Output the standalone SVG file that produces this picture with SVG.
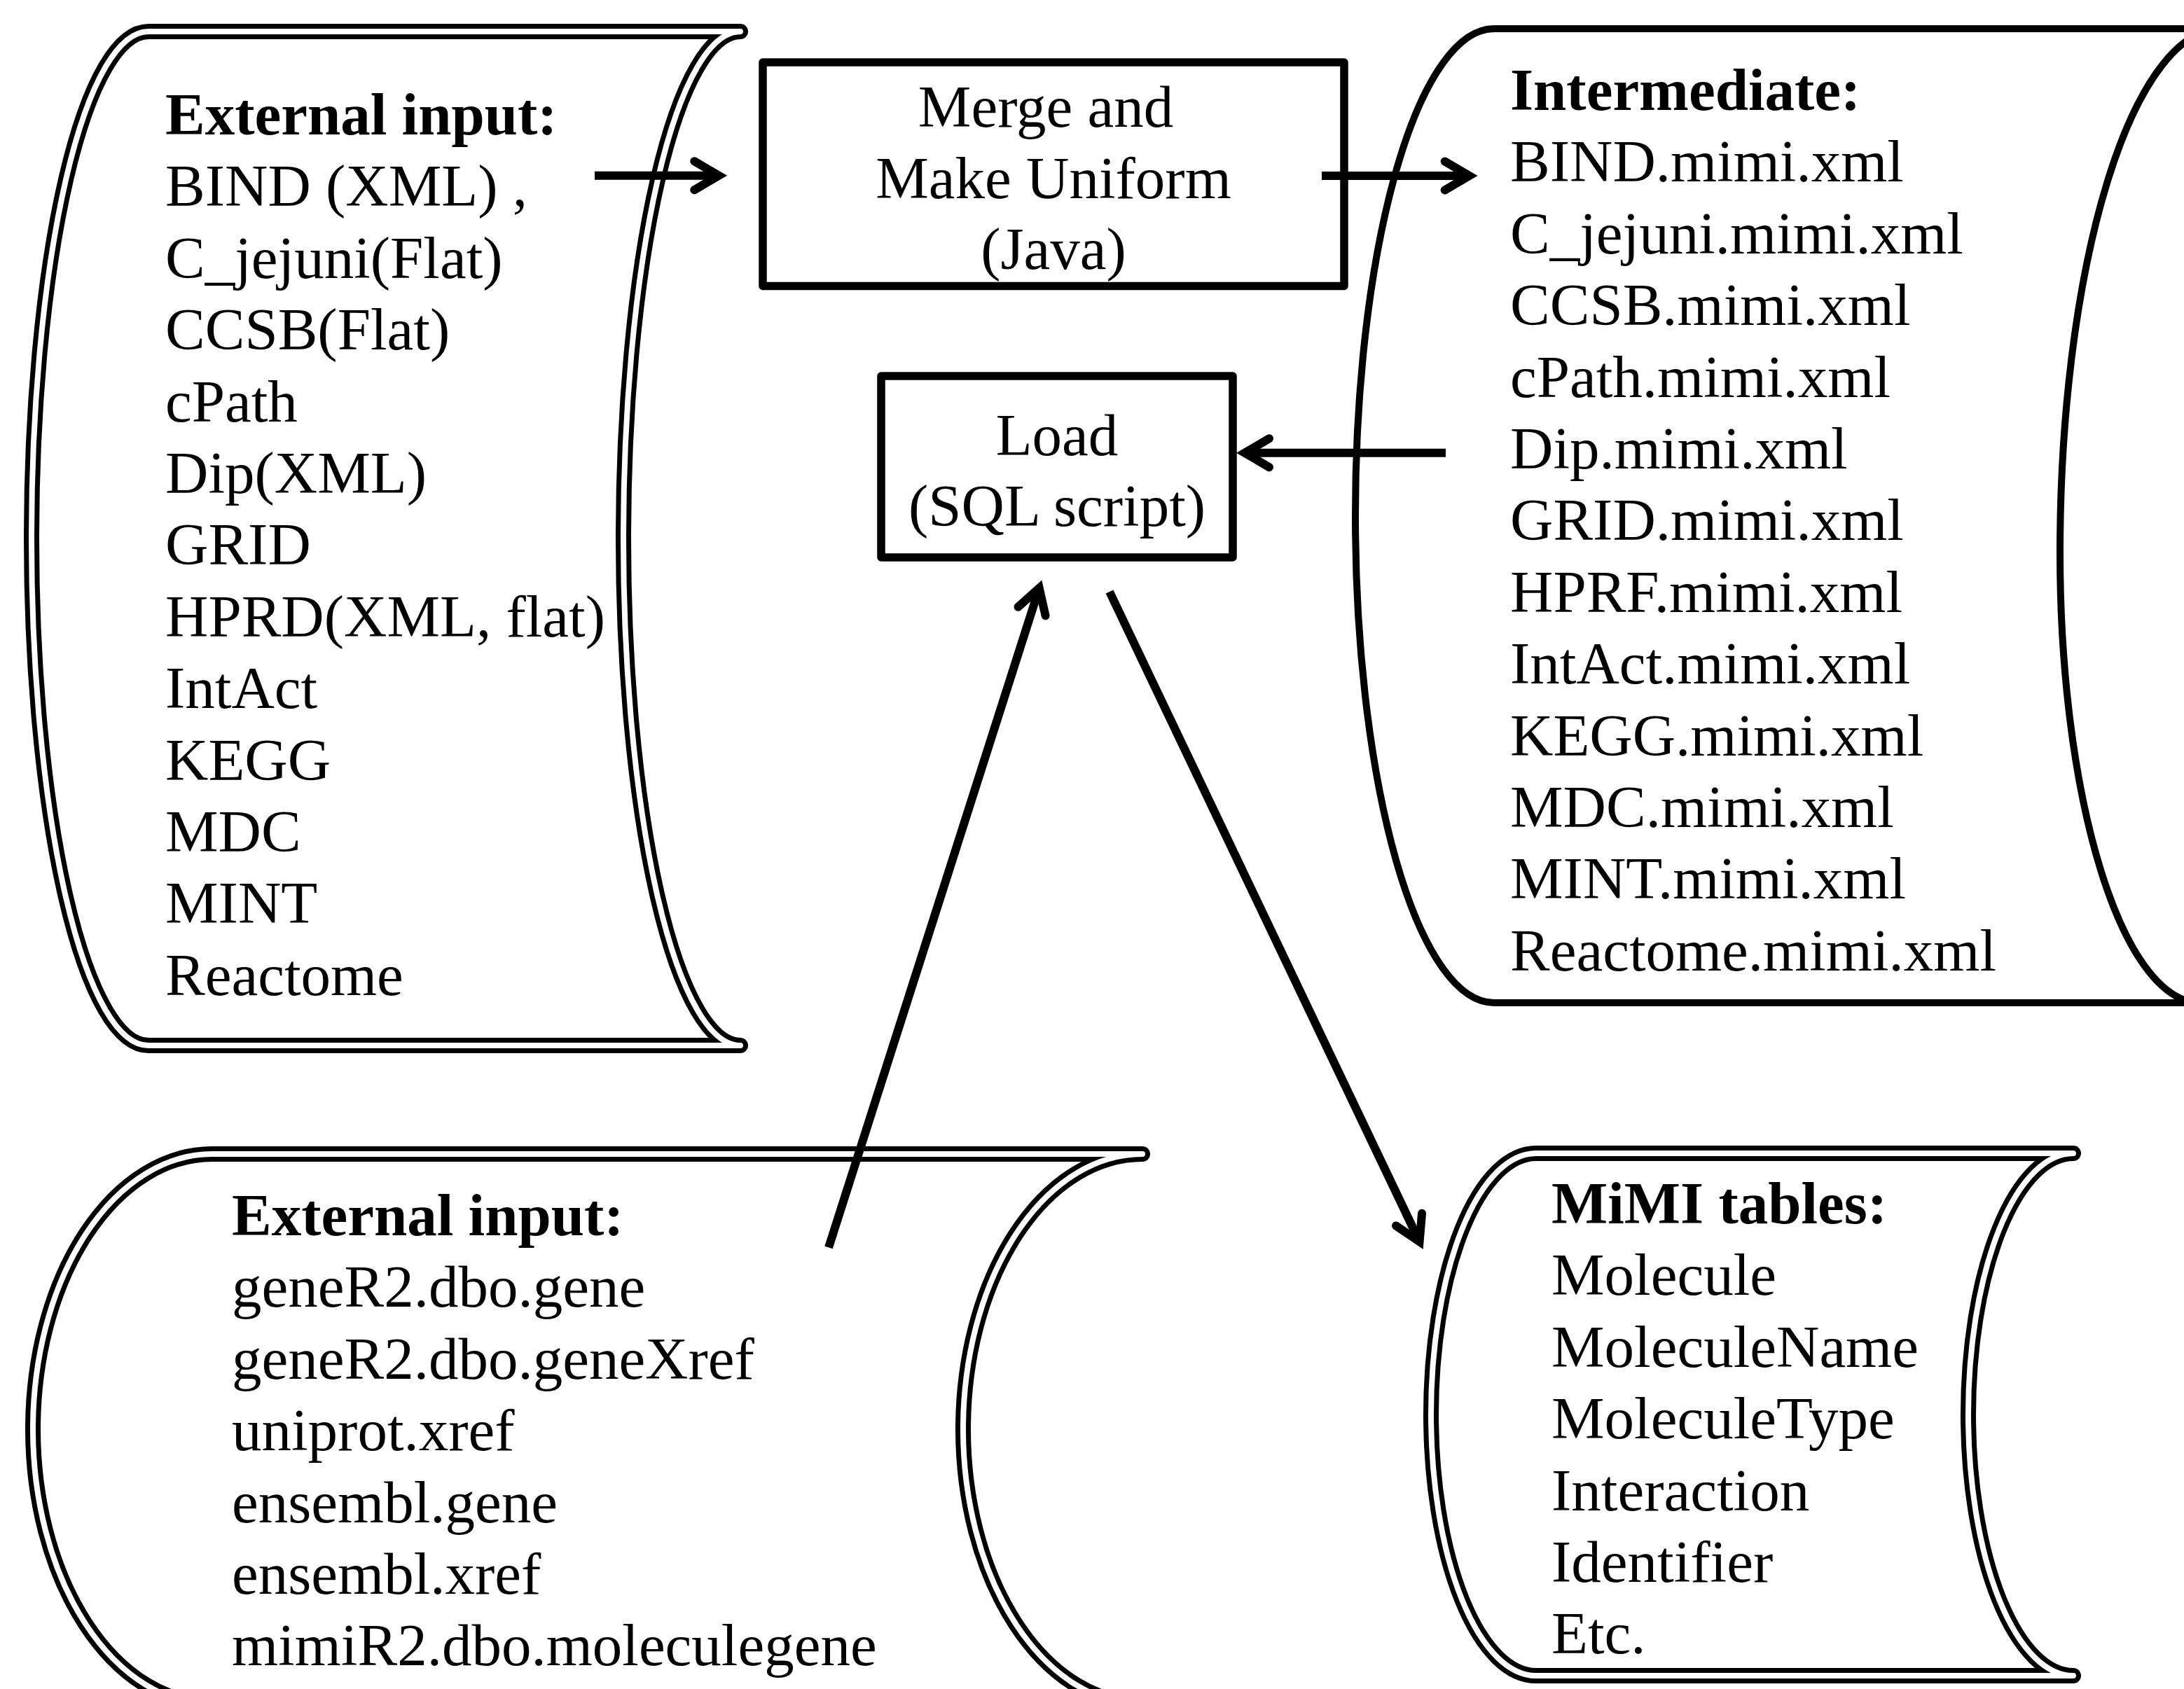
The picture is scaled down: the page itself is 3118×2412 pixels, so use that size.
<svg xmlns="http://www.w3.org/2000/svg" width="3118" height="2412" viewBox="0 0 3118 2412">
<style>
.t{font-family:"Liberation Serif","Times New Roman",serif;font-size:85px;fill:#000}
.b{font-weight:bold}
.m{text-anchor:middle}
.dblo{fill:#fff;stroke:#000;stroke-width:22;stroke-linejoin:round}
.dbli{fill:none;stroke:#fff;stroke-width:8;stroke-linejoin:round}
.sgl{fill:#fff;stroke:#000;stroke-width:10;stroke-linejoin:round}
.box{fill:#fff;stroke:#000;stroke-width:11.5;stroke-linejoin:round}
.con{fill:none;stroke:#000;stroke-width:12;stroke-linecap:butt}
</style>
<defs>
<marker id="ah" markerUnits="userSpaceOnUse" orient="auto" markerWidth="80" markerHeight="80" refX="0" refY="0" viewBox="-50 -40 80 80" overflow="visible">
<path d="M -35,-20.5 L 0,0 L -35,20.5" fill="none" stroke="#000" stroke-width="12" stroke-linecap="round" stroke-linejoin="miter"/>
</marker>
</defs>
<rect x="0" y="0" width="3118" height="2412" fill="#fff"/>

<g id="external-input-1">
<path class="dblo" d="M 212,45 L 1057,45 A 167,724 0 0 0 1057,1493 L 212,1493 A 167,724 0 0 1 212,45 Z"/>
<path class="dbli" d="M 212,45 L 1057,45 A 167,724 0 0 0 1057,1493 L 212,1493 A 167,724 0 0 1 212,45 Z"/>
<text class="t b" x="236" y="192">External input:</text>
<text class="t" x="236" y="294">BIND (XML) ,</text>
<text class="t" x="236" y="397">C_jejuni(Flat)</text>
<text class="t" x="236" y="499">CCSB(Flat)</text>
<text class="t" x="236" y="602">cPath</text>
<text class="t" x="236" y="704">Dip(XML)</text>
<text class="t" x="236" y="806">GRID</text>
<text class="t" x="236" y="909">HPRD(XML, flat)</text>
<text class="t" x="236" y="1011">IntAct</text>
<text class="t" x="236" y="1114">KEGG</text>
<text class="t" x="236" y="1216">MDC</text>
<text class="t" x="236" y="1318">MINT</text>
<text class="t" x="236" y="1421">Reactome</text>
</g>

<g id="intermediate">
<path class="sgl" d="M 2133,41 L 3171,41 A 230,749 0 0 0 2941,790 A 200,642 0 0 0 3141,1432 L 2133,1432 A 198,695.5 0 0 1 2133,41 Z"/>
<text class="t b" x="2156" y="157">Intermediate:</text>
<text class="t" x="2156" y="259">BIND.mimi.xml</text>
<text class="t" x="2156" y="362">C_jejuni.mimi.xml</text>
<text class="t" x="2156" y="464">CCSB.mimi.xml</text>
<text class="t" x="2156" y="567">cPath.mimi.xml</text>
<text class="t" x="2156" y="669">Dip.mimi.xml</text>
<text class="t" x="2156" y="771">GRID.mimi.xml</text>
<text class="t" x="2156" y="874">HPRF.mimi.xml</text>
<text class="t" x="2156" y="976">IntAct.mimi.xml</text>
<text class="t" x="2156" y="1079">KEGG.mimi.xml</text>
<text class="t" x="2156" y="1181">MDC.mimi.xml</text>
<text class="t" x="2156" y="1283">MINT.mimi.xml</text>
<text class="t" x="2156" y="1386">Reactome.mimi.xml</text>
</g>

<g id="merge">
<rect class="box" x="1089" y="89" width="830" height="319.5"/>
<text class="t m" x="1493" y="181">Merge and</text>
<text class="t m" x="1504" y="282.5">Make Uniform</text>
<text class="t m" x="1504" y="384">(Java)</text>
</g>

<g id="load">
<rect class="box" x="1258" y="537" width="502" height="259"/>
<text class="t m" x="1509" y="650">Load</text>
<text class="t m" x="1509" y="751">(SQL script)</text>
</g>

<g id="external-input-2">
<path class="dblo" d="M 303,1648 L 1631,1648 A 256,393 0 0 0 1631,2434 L 303,2434 A 256,393 0 0 1 303,1648 Z"/>
<path class="dbli" d="M 303,1648 L 1631,1648 A 256,393 0 0 0 1631,2434 L 303,2434 A 256,393 0 0 1 303,1648 Z"/>
<text class="t b" x="331" y="1764">External input:</text>
<text class="t" x="331" y="1866">geneR2.dbo.gene</text>
<text class="t" x="331" y="1969">geneR2.dbo.geneXref</text>
<text class="t" x="331" y="2071">uniprot.xref</text>
<text class="t" x="331" y="2174">ensembl.gene</text>
<text class="t" x="331" y="2276">ensembl.xref</text>
<text class="t" x="331" y="2378">mimiR2.dbo.moleculegene</text>
</g>

<g id="mimi-tables">
<path class="dblo" d="M 2193,1647 L 2960,1647 A 150,373 0 0 0 2960,2393 L 2193,2393 A 150,373 0 0 1 2193,1647 Z"/>
<path class="dbli" d="M 2193,1647 L 2960,1647 A 150,373 0 0 0 2960,2393 L 2193,2393 A 150,373 0 0 1 2193,1647 Z"/>
<text class="t b" x="2215" y="1747">MiMI tables:</text>
<text class="t" x="2215" y="1849">Molecule</text>
<text class="t" x="2215" y="1952">MoleculeName</text>
<text class="t" x="2215" y="2054">MoleculeType</text>
<text class="t" x="2215" y="2157">Interaction</text>
<text class="t" x="2215" y="2259">Identifier</text>
<text class="t" x="2215" y="2361">Etc.</text>
</g>

<g id="connectors">
<path class="con" d="M 849,250.7 L 1026.3,250.7" marker-end="url(#ah)"/>
<path class="con" d="M 1887,251 L 2097.7,251" marker-end="url(#ah)"/>
<path class="con" d="M 2064,646.7 L 1777,646.7" marker-end="url(#ah)"/>
<path class="con" d="M 1183,1781.5 L 1483.7,839.7" marker-end="url(#ah)"/>
<path class="con" d="M 1584,845 L 2026.6,1773.2" marker-end="url(#ah)"/>
</g>
</svg>
